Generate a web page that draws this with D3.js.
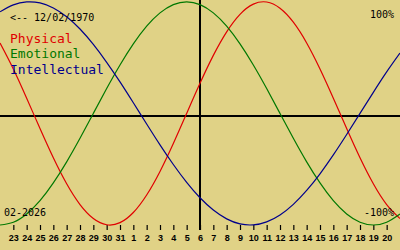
<!DOCTYPE html>
<html>
<head>
<meta charset="utf-8">
<script src="https://cdn.jsdelivr.net/npm/d3@7"></script>
<style>
  html, body { margin: 0; padding: 0; background: #e0d286; }
  svg { display: block; }
  .tick text { font-family: "Liberation Sans", Arial, sans-serif; font-weight: bold; font-size: 9px; }
</style>
</head>
<body>
<div id="graph"></div>
<script>
// one point per day, Jan 22 .. Feb 21 2026
var dates = [
  "2026-01-22","2026-01-23","2026-01-24","2026-01-25","2026-01-26","2026-01-27",
  "2026-01-28","2026-01-29","2026-01-30","2026-01-31","2026-02-01","2026-02-02",
  "2026-02-03","2026-02-04","2026-02-05","2026-02-06","2026-02-07","2026-02-08",
  "2026-02-09","2026-02-10","2026-02-11","2026-02-12","2026-02-13","2026-02-14",
  "2026-02-15","2026-02-16","2026-02-17","2026-02-18","2026-02-19","2026-02-20",
  "2026-02-21"
]

var physical = [
  0.631, 0.398, 0.136, -0.136, -0.398, -0.631, -0.817, -0.942, -0.998, -0.979,
  -0.888, -0.731, -0.520, -0.270, 0.000, 0.270, 0.520, 0.731, 0.888, 0.979,
  0.998, 0.942, 0.817, 0.631, 0.398, 0.136, -0.136, -0.398, -0.631, -0.817, -0.942
]
var emotional = [
  -1.000, -0.975, -0.901, -0.782, -0.623, -0.434, -0.223, 0.000, 0.223, 0.434,
  0.623, 0.782, 0.901, 0.975, 1.000, 0.975, 0.901, 0.782, 0.623, 0.434,
  0.223, 0.000, -0.223, -0.434, -0.623, -0.782, -0.901, -0.975, -1.000, -0.975, -0.901
]
var intellectual = [
  0.910, 0.972, 0.999, 0.990, 0.945, 0.866, 0.756, 0.618, 0.458, 0.282,
  0.095, -0.095, -0.282, -0.458, -0.618, -0.756, -0.866, -0.945, -0.990, -0.999,
  -0.972, -0.910, -0.815, -0.690, -0.541, -0.372, -0.189, 0.000, 0.189, 0.372, 0.541
]

var seriesNames = ["Physical", "Emotional", "Intellectual"]
var seriesColors = ["#e00000", "#007800", "#00008c"]
var tickDates = dates.slice(1, 30)
var today = "2026-02-06"
var birthLabel = "<-- 12/02/1970"
var monthLabel = "02-2026"
var topLabel = "100%", bottomLabel = "-100%"

var parse = d3.utcParse("%Y-%m-%d")
var width = 400, height = 250

var svg = d3.select("#graph").append("svg")
  .attr("width", width).attr("height", height)

svg.append("rect").attr("width", width).attr("height", height).attr("fill", "#e0d286")

var x = d3.scaleUtc().domain([parse(dates[0]), parse(dates[dates.length - 1])]).range([0, width])
var y = d3.scaleLinear().domain([-1, 1]).range([225, 1.8])
var zeroY = 116

// axis cross
svg.append("line")
  .attr("x1", 0).attr("x2", width).attr("y1", zeroY).attr("y2", zeroY)
  .attr("stroke", "#000").attr("stroke-width", 2)
svg.append("line")
  .attr("x1", x(parse(today))).attr("x2", x(parse(today)))
  .attr("y1", 0).attr("y2", 230)
  .attr("stroke", "#000").attr("stroke-width", 2)

// day ticks
var xAxis = d3.axisBottom(x)
  .tickValues(tickDates.map(parse))
  .tickFormat(d3.utcFormat("%-d"))
  .tickSize(5).tickPadding(5)

var ax = svg.append("g").attr("transform", "translate(0,225)").call(xAxis)
ax.select(".domain").remove()
ax.selectAll(".tick line").attr("stroke", "#000").attr("stroke-width", 1.2)
ax.selectAll(".tick text").attr("fill", "#000").attr("dy", "0.72em")

// curves
var line = d3.line()
  .x(function(d, i){ return x(parse(dates[i])) })
  .y(function(d){ return y(d) })
  .curve(d3.curveNatural)

;[physical, emotional, intellectual].forEach(function(s, i){
  svg.append("path")
    .attr("d", line(s))
    .attr("fill", "none")
    .attr("stroke", seriesColors[i])
    .attr("stroke-width", 1.2)
})

// texts
var mono = '"DejaVu Sans Mono", monospace'
svg.append("text").text(birthLabel)
  .attr("x", 10).attr("y", 21)
  .attr("font-family", mono).attr("font-size", 10).attr("fill", "#000")

seriesNames.forEach(function(n, i){
  svg.append("text").text(n)
    .attr("x", 10).attr("y", 43 + i * 15.3)
    .attr("font-family", mono).attr("font-size", 13)
    .attr("fill", seriesColors[i])
})

svg.append("text").text(topLabel)
  .attr("x", 394).attr("y", 18).attr("text-anchor", "end")
  .attr("font-family", mono).attr("font-size", 10).attr("fill", "#000")
svg.append("text").text(bottomLabel)
  .attr("x", 394).attr("y", 216).attr("text-anchor", "end")
  .attr("font-family", mono).attr("font-size", 10).attr("fill", "#000")
svg.append("text").text(monthLabel)
  .attr("x", 4).attr("y", 216)
  .attr("font-family", mono).attr("font-size", 10).attr("fill", "#000")
</script>
</body>
</html>
